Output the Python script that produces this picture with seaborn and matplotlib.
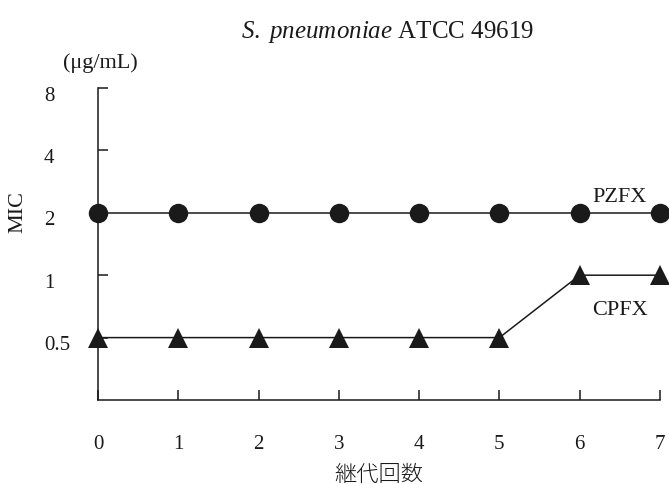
import matplotlib
matplotlib.use("Agg")
import matplotlib.pyplot as plt
import matplotlib.transforms as mtransforms
import seaborn as sns
import pandas as pd

passages = [0, 1, 2, 3, 4, 5, 6, 7]
pzfx_mic = [2, 2, 2, 2, 2, 2, 2, 2]
cpfx_mic = [0.5, 0.5, 0.5, 0.5, 0.5, 0.5, 1, 1]
y_ticks = [0.5, 1, 2, 4, 8]
y_tick_labels = ["0.5", "1", "2", "4", "8"]

df = pd.DataFrame({
    "passage": passages * 2,
    "MIC": pzfx_mic + cpfx_mic,
    "drug": ["PZFX"] * len(passages) + ["CPFX"] * len(passages),
})

sns.set_theme(style="ticks")
plt.rcParams["font.family"] = ["Liberation Serif", "Noto Sans CJK JP"]
plt.rcParams["mathtext.fontset"] = "custom"
plt.rcParams["mathtext.rm"] = "Liberation Serif"
plt.rcParams["mathtext.it"] = "Liberation Serif:italic"

W, H = 669, 484
fig = plt.figure(figsize=(W / 100, H / 100), dpi=100)
ax = fig.add_axes([98 / W, 1 - 400 / H, 562 / W, 312 / H])

ink = "#1a1a1a"
sns.lineplot(data=df, x="passage", y="MIC", hue="drug", style="drug",
             markers={"PZFX": "o", "CPFX": "^"}, dashes=False,
             palette={"PZFX": ink, "CPFX": ink}, markersize=14,
             linewidth=1.1, markeredgewidth=0, legend=False, ax=ax)
for line in ax.lines:
    line.set_clip_on(False)

ax.set_yscale("log", base=2)
ax.set_ylim(0.25, 8)
ax.set_xlim(0, 7)
ax.set_yticks(y_ticks)
ax.set_yticklabels(y_tick_labels)
ax.minorticks_off()
ax.set_xticks(passages)

for side in ("top", "right"):
    ax.spines[side].set_visible(False)
for side in ("left", "bottom"):
    ax.spines[side].set_color(ink)
    ax.spines[side].set_linewidth(1.1)

ax.tick_params(axis="y", direction="in", length=7, width=1.1, color=ink,
               labelsize=15, pad=39, labelcolor=ink)
ax.tick_params(axis="x", direction="in", length=7, width=1.1, color=ink,
               labelsize=15, pad=25, labelcolor=ink)
shift_down = mtransforms.ScaledTranslation(0, -4 / 72, fig.dpi_scale_trans)
for lbl in ax.get_yticklabels():
    lbl.set_horizontalalignment("left")
    lbl.set_transform(lbl.get_transform() + shift_down)

ax.set_xlabel("継代回数", fontsize=16, family=["Noto Sans CJK JP"], color=ink,
              fontweight="light", labelpad=7)
ax.set_ylabel("MIC", fontsize=16, color=ink)
ax.yaxis.set_label_coords(-0.125, (400 - 212) / 312)

fig.text(388 / W, 1 - 32 / H, r"$\mathit{S.\ pneumoniae}$ ATCC 49619",
         ha="center", va="center", fontsize=18, color=ink)
fig.text(100 / W, 1 - 63 / H, "(μg/mL)", ha="center", va="center",
         fontsize=16, color=ink)

ax.text(6.50, 2.38, "PZFX", ha="center", va="center", fontsize=16, color=ink)
ax.text(6.50, 0.675, "CPFX", ha="center", va="center", fontsize=16, color=ink)

fig.savefig("out.png", dpi=100)
